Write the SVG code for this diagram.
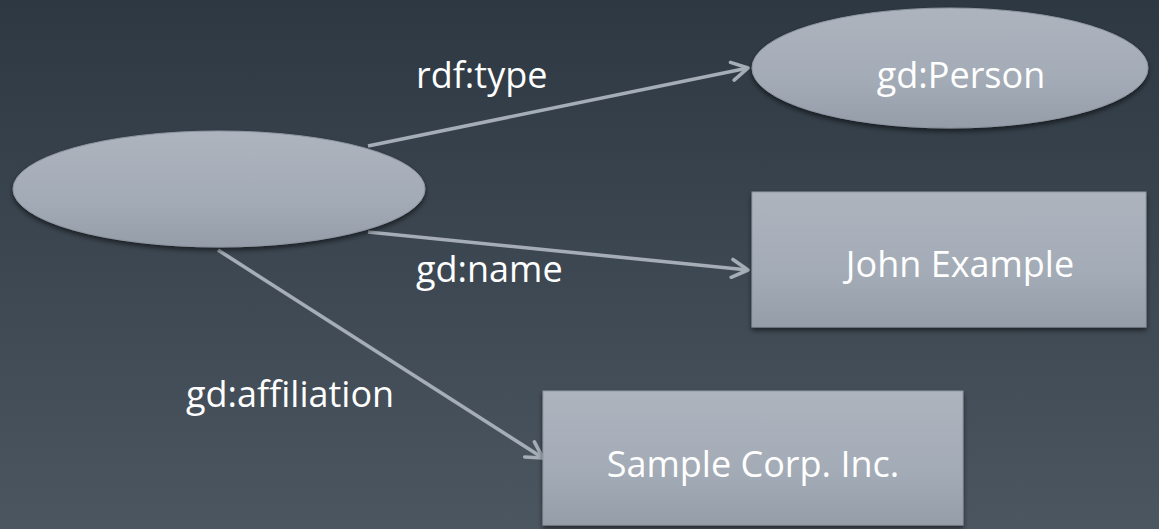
<svg xmlns="http://www.w3.org/2000/svg" width="1159" height="529" viewBox="0 0 1159 529">
<defs>
<linearGradient id="bg" x1="0" y1="0" x2="0" y2="1">
<stop offset="0" stop-color="#2d3842"/>
<stop offset="1" stop-color="#4c5660"/>
</linearGradient>
<linearGradient id="nodeFill" x1="0" y1="0" x2="0" y2="1">
<stop offset="0" stop-color="#adb4be"/>
<stop offset="0.6" stop-color="#a3abb6"/>
<stop offset="1" stop-color="#959da8"/>
</linearGradient>
<filter id="shadow" x="-10%" y="-20%" width="120%" height="150%">
<feDropShadow dx="0" dy="3" stdDeviation="2.5" flood-color="#000" flood-opacity="0.55"/>
</filter>
<marker id="arrow" viewBox="0 0 22 22" refX="19" refY="11" markerWidth="22" markerHeight="22" markerUnits="userSpaceOnUse" orient="auto">
<path d="M3,2 L19,11 L3,20" fill="none" stroke="#a5adb7" stroke-width="3.6" stroke-linecap="round" stroke-linejoin="round"/>
</marker>
<style>
.node{fill:url(#nodeFill);stroke:#8f97a2;stroke-width:1;filter:url(#shadow)}
.edge{stroke:#a5adb7;stroke-width:3.6;fill:none;marker-end:url(#arrow)}
.lbl{font-family:"Open Sans","Noto Sans",sans-serif;font-size:36px;fill:#ffffff}
.nlbl{font-family:"Open Sans","Noto Sans",sans-serif;font-size:36px;fill:#ffffff;text-anchor:middle}
</style>
</defs>
<rect width="1159" height="529" fill="url(#bg)"/>
<g id="connectors">
<line class="edge" x1="368" y1="146" x2="748" y2="68"/>
<line class="edge" x1="368" y1="232" x2="748" y2="270"/>
<line class="edge" x1="218" y1="250" x2="543" y2="458"/>
<text class="lbl" x="416" y="88">rdf:type</text>
<text class="lbl" x="416" y="282">gd:name</text>
<text class="lbl" x="186" y="407">gd:affiliation</text>
</g>
<g id="blank">
<ellipse class="node" cx="219" cy="189" rx="206" ry="58"/>
</g>
<g id="person">
<ellipse class="node" cx="950" cy="68" rx="198" ry="60"/>
<text class="nlbl" x="961" y="88">gd:Person</text>
</g>
<g id="john">
<rect class="node" x="752" y="192" width="394" height="135"/>
<text class="nlbl" x="960" y="277">John Example</text>
</g>
<g id="sample">
<rect class="node" x="543" y="391" width="420" height="134"/>
<text class="nlbl" x="753" y="477">Sample Corp. Inc.</text>
</g>
</svg>
